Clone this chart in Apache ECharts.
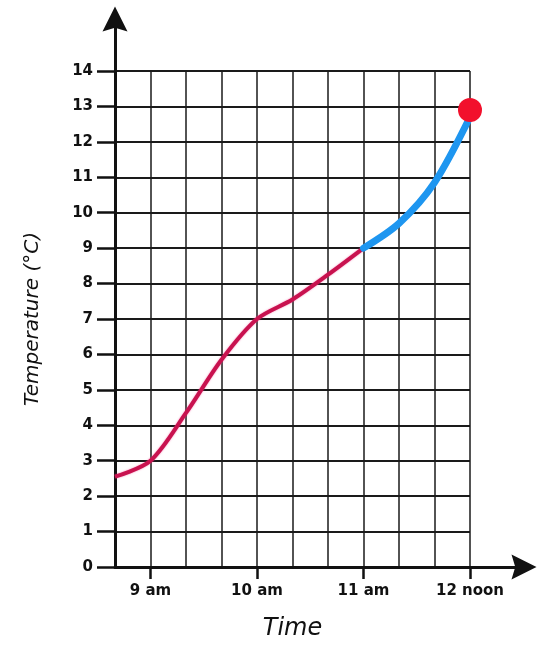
<!DOCTYPE html>
<html>
<head>
<meta charset="utf-8">
<script src="https://cdn.jsdelivr.net/npm/echarts@6/dist/echarts.min.js"></script>
<style>
  html, body { margin: 0; padding: 0; background: #fff; }
  #chart { width: 544px; height: 646px; }
</style>
</head>
<body>
<div id="chart"></div>
<script>
// time steps of 20 minutes, from 8:40 to 12 noon
const times = ["8:40", "9:00", "9:20", "9:40", "10:00", "10:20", "10:40", "11:00", "11:20", "11:40", "12:00"];
const timeLabels = ["", "9 am", "", "", "10 am", "", "", "11 am", "", "", "12 noon"];

// temperature readings (°C)
const morningTemp = [2.55, 3.0, 4.35, 5.85, 7.0, 7.55, 8.25, 9.0, null, null, null];
const lateTemp = [null, null, null, null, null, null, null, 9.0, 9.7, 10.85, 12.7];
const noonPoint = [["12:00", 12.9]];

const chart = echarts.init(document.getElementById("chart"));

const hourTick = (i) => timeLabels[i] !== "";
const arrowHead = "path://M5,0 L10,10 L5,8.5 L0,10 Z";

const option = {
  animation: false,
  grid: [
    { left: 115, right: 74, top: 71, bottom: 79 },
    // second grid only carries the arrowed axis lines
    { left: 115, right: 20, top: 19, bottom: 79 },
  ],
  xAxis: [
    {
      type: "category",
      gridIndex: 0,
      data: times,
      boundaryGap: false,
      name: "Time",
      nameLocation: "middle",
      nameGap: 50,
      nameTextStyle: { fontFamily: "DejaVu Sans", fontStyle: "italic", fontSize: 24, color: "#111" },
      axisLine: { show: false },
      axisTick: { show: true, interval: (i) => hourTick(i), length: 12, inside: false, lineStyle: { color: "#111", width: 2.5 } },
      axisLabel: {
        interval: (i) => hourTick(i),
        formatter: (v, i) => timeLabels[i],
        margin: 17,
        fontFamily: "DejaVu Sans",
        fontWeight: "bold",
        fontSize: 15,
        color: "#111",
      },
      splitLine: { show: true, interval: 0, lineStyle: { color: "#1a1a1a", width: 1.5 } },
    },
    {
      type: "value",
      gridIndex: 1,
      min: 0,
      max: 1,
      axisLine: { show: true, symbol: ["none", arrowHead], symbolSize: [25, 27], lineStyle: { color: "#111", width: 3 } },
      axisTick: { show: false },
      axisLabel: { show: false },
      splitLine: { show: false },
    },
  ],
  yAxis: [
    {
      type: "value",
      gridIndex: 0,
      min: 0,
      max: 14,
      interval: 1,
      name: "Temperature (°C)",
      nameLocation: "middle",
      nameGap: 72,
      nameRotate: 90,
      nameTextStyle: { fontFamily: "DejaVu Sans", fontStyle: "italic", fontSize: 20, color: "#111" },
      axisLine: { show: false },
      axisTick: { show: true, length: 18, lineStyle: { color: "#111", width: 2.5 } },
      axisLabel: {
        margin: 22,
        fontFamily: "DejaVu Sans",
        fontWeight: "bold",
        fontSize: 15,
        color: "#111",
      },
      splitLine: { show: true, lineStyle: { color: "#1a1a1a", width: 2 } },
    },
    {
      type: "value",
      gridIndex: 1,
      min: 0,
      max: 1,
      axisLine: { show: true, symbol: ["none", arrowHead], symbolSize: [25, 27], lineStyle: { color: "#111", width: 3 } },
      axisTick: { show: false },
      axisLabel: { show: false },
      splitLine: { show: false },
    },
  ],
  series: [
    {
      name: "morning",
      type: "line",
      xAxisIndex: 0,
      yAxisIndex: 0,
      data: morningTemp,
      smooth: 0.3,
      showSymbol: false,
      lineStyle: { color: "#c8124f", width: 4, shadowColor: "rgba(240,60,140,0.6)", shadowBlur: 2 },
      z: 3,
    },
    {
      name: "late",
      type: "line",
      xAxisIndex: 0,
      yAxisIndex: 0,
      data: lateTemp,
      smooth: 0.3,
      showSymbol: false,
      lineStyle: { color: "#1e96f0", width: 7, cap: "round" },
      z: 4,
    },
    {
      name: "noon",
      type: "scatter",
      xAxisIndex: 0,
      yAxisIndex: 0,
      data: noonPoint,
      symbolSize: 24,
      itemStyle: { color: "#f2102c", opacity: 1 },
      z: 5,
    },
  ],
};

chart.setOption(option);
</script>
</body>
</html>
